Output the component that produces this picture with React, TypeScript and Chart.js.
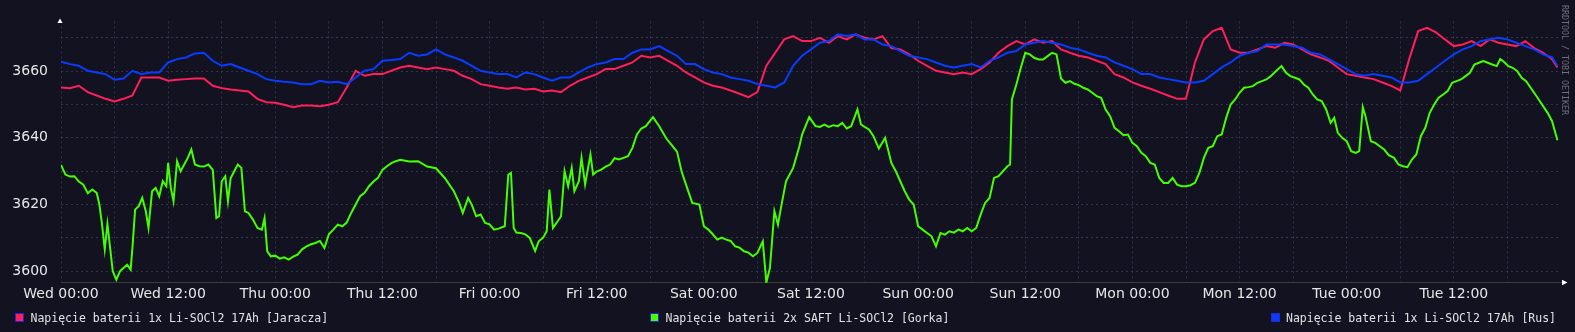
import React, { useEffect, useRef } from "react";
import { Chart, registerables } from "chart.js";
Chart.register(...registerables);

// ---------- data ----------
const X_LABELS = [
  "Wed 00:00", "Wed 12:00", "Thu 00:00", "Thu 12:00", "Fri 00:00", "Fri 12:00", "Sat 00:00",
  "Sat 12:00", "Sun 00:00", "Sun 12:00", "Mon 00:00", "Mon 12:00", "Tue 00:00", "Tue 12:00",
];
const X_GRID_HOURS = [0, 6, 12, 18, 24, 30, 36, 42, 48, 54, 60, 66, 72, 78, 84, 90, 96, 102, 108, 114, 120, 126, 132, 138, 144, 150, 156, 162];
const Y_GRID = [3600, 3610, 3620, 3630, 3640, 3650, 3660, 3670];
const Y_LABELED = [3600, 3620, 3640, 3660];

const SERIES_NAMES = [
  "Napięcie baterii 1x Li-SOCl2 17Ah [Jaracza]",
  "Napięcie baterii 2x SAFT Li-SOCl2 [Gorka]",
  "Napięcie baterii 1x Li-SOCl2 17Ah [Rus]",
];

// hourly samples for red and blue (hour 0..167, then the last sample at 167.6)
const LAST_HOUR = 167.6;

const RED = [
  3655.1, 3654.9, 3655.6, 3653.7, 3652.7, 3651.7, 3650.9, 3651.7, 3652.7, 3658.1, 3658.1, 3658.1,
  3657.1, 3657.4, 3657.6, 3657.8, 3657.8, 3655.6, 3654.9, 3654.5, 3654.2, 3653.9, 3651.7, 3650.7,
  3650.5, 3649.9, 3649.2, 3649.7, 3649.7, 3649.5, 3649.9, 3650.7, 3655.1, 3660.1, 3658.6, 3659.1,
  3659.1, 3660.1, 3661.1, 3661.6, 3661.1, 3660.6, 3661.1, 3660.6, 3660.1, 3658.6, 3657.6, 3656.1,
  3655.6, 3655.1, 3654.7, 3655.1, 3654.5, 3654.7, 3653.9, 3654.2, 3653.7, 3655.6, 3657.1, 3658.1,
  3659.1, 3660.6, 3660.6, 3661.6, 3662.6, 3664.6, 3664.1, 3664.6, 3663.1, 3661.6, 3659.6, 3658.1,
  3656.6, 3655.6, 3655.1, 3654.2, 3653.2, 3652.2, 3653.7, 3661.6, 3665.5, 3669.5, 3670.5, 3669.0,
  3669.0, 3670.0, 3668.5, 3670.5, 3669.5, 3671.0, 3670.0, 3669.5, 3670.5, 3666.9, 3666.5, 3665.0,
  3663.1, 3661.6, 3660.1, 3659.6, 3659.1, 3659.6, 3659.1, 3660.6, 3662.6, 3665.5, 3667.5, 3669.0,
  3668.0, 3669.5, 3668.5, 3669.0, 3666.5, 3665.5, 3664.6, 3664.1, 3663.1, 3662.1, 3659.1, 3658.1,
  3656.6, 3655.6, 3654.7, 3653.7, 3652.7, 3651.7, 3651.7, 3662.6, 3669.5, 3672.0, 3673.0, 3666.5,
  3665.5, 3665.5, 3666.5, 3667.5, 3667.0, 3668.5, 3668.0, 3666.5, 3665.0, 3664.1, 3663.1, 3661.1,
  3659.1, 3658.6, 3658.1, 3657.6, 3656.6, 3655.6, 3654.2, 3663.6, 3672.0, 3673.0, 3671.6, 3669.5,
  3667.5, 3668.0, 3669.0, 3667.5, 3669.5, 3668.5, 3668.0, 3667.5, 3669.0, 3666.9, 3665.5, 3663.6,
  3661.1,
];

const BLUE = [
  3662.8, 3662.1, 3661.6, 3660.1, 3659.6, 3659.1, 3657.4, 3657.8, 3660.1, 3659.1, 3659.6, 3659.6,
  3662.6, 3663.6, 3664.1, 3665.3, 3665.5, 3663.1, 3661.6, 3662.1, 3661.1, 3660.1, 3659.1, 3657.6,
  3657.1, 3656.8, 3656.6, 3656.1, 3656.1, 3657.1, 3656.6, 3656.8, 3656.1, 3658.1, 3660.1, 3660.6,
  3663.1, 3663.3, 3663.6, 3665.5, 3664.6, 3665.0, 3666.5, 3665.0, 3664.1, 3663.1, 3661.6, 3660.1,
  3659.6, 3659.1, 3659.1, 3658.1, 3659.6, 3659.1, 3658.1, 3657.1, 3658.1, 3658.1, 3659.6, 3661.1,
  3662.1, 3662.6, 3663.6, 3663.6, 3665.5, 3666.5, 3666.5, 3667.5, 3666.0, 3664.6, 3662.1, 3662.1,
  3660.6, 3659.6, 3659.1, 3658.1, 3657.6, 3657.1, 3656.1, 3655.6, 3655.1, 3656.6, 3661.6, 3664.6,
  3666.5, 3668.5, 3669.0, 3671.0, 3670.5, 3671.0, 3669.5, 3669.5, 3668.0, 3667.5, 3666.0, 3664.6,
  3664.1, 3663.6, 3662.6, 3661.6, 3661.1, 3661.6, 3662.1, 3661.1, 3663.1, 3664.1, 3665.5, 3666.0,
  3668.0, 3668.5, 3669.0, 3668.5, 3668.0, 3667.0, 3666.5, 3665.5, 3664.6, 3664.1, 3662.6, 3661.6,
  3660.6, 3659.1, 3659.1, 3658.1, 3657.6, 3657.1, 3656.6, 3656.6, 3657.1, 3659.1, 3661.1, 3662.6,
  3664.6, 3665.5, 3666.0, 3668.0, 3668.0, 3668.0, 3667.5, 3667.0, 3665.5, 3665.0, 3663.6, 3662.1,
  3660.6, 3659.1, 3658.6, 3659.1, 3658.6, 3658.1, 3656.6, 3656.6, 3657.1, 3659.1, 3661.1, 3663.1,
  3665.0, 3666.5, 3667.5, 3669.0, 3669.5, 3670.0, 3669.5, 3668.5, 3667.5, 3666.5, 3665.0, 3664.1,
  3661.6,
];

// green: [hour, value] samples
const GREEN: [number, number][] = [
  [0, 3631.9], [0.5, 3629], [1, 3628.4], [1.5, 3628.5], [2, 3626.9], [2.5, 3626], [3, 3623.4], [3.5, 3624.5],
  [4, 3623.5], [4.3, 3620], [4.6, 3614], [4.9, 3606.6], [5.2, 3614.2], [5.5, 3607], [5.8, 3600], [6.2, 3597.5],
  [6.6, 3600], [7, 3601], [7.4, 3602], [7.8, 3600.5], [8, 3607], [8.3, 3618.5], [8.7, 3619.5], [9.1, 3622],
  [9.5, 3618], [9.8, 3613], [10.2, 3624], [10.6, 3625], [11, 3622.5], [11.4, 3627], [11.8, 3625.5], [12, 3632.5],
  [12.3, 3625], [12.6, 3621], [13, 3633], [13.4, 3630], [13.8, 3632], [14.2, 3634], [14.6, 3636.5], [15, 3632],
  [15.5, 3631.5], [16, 3631.4], [16.5, 3632], [17, 3630.4], [17.4, 3616], [17.7, 3616.5], [18, 3627], [18.4, 3628.5],
  [18.7, 3621], [19, 3627.9], [19.4, 3630], [19.8, 3632], [20.2, 3631], [20.6, 3618], [21, 3617.5], [21.5, 3615.5],
  [22, 3613], [22.5, 3612.5], [22.8, 3616], [23.1, 3606], [23.5, 3604.5], [24, 3604.7], [24.5, 3603.8], [25, 3604.2],
  [25.5, 3603.5], [26, 3604.4], [26.5, 3605], [27, 3606.6], [27.5, 3607.5], [28, 3608.1], [28.5, 3608.5], [29, 3609.1],
  [29.5, 3607], [30, 3611.1], [30.5, 3612.5], [31, 3614], [31.5, 3613.5], [32, 3614.6], [32.5, 3617.5], [33, 3620],
  [33.5, 3622.5], [34, 3623.5], [34.5, 3625.5], [35, 3626.9], [35.5, 3628], [36, 3630.4], [36.5, 3631.5], [37, 3632.4],
  [37.5, 3633], [38, 3633.4], [39, 3632.9], [40, 3633], [41, 3631.4], [42, 3630.9], [43, 3627.9], [44, 3624],
  [44.6, 3620.5], [45, 3617.5], [45.6, 3622], [46, 3620], [46.5, 3616.5], [47, 3617], [47.5, 3614.5], [48, 3614.1],
  [48.5, 3612.5], [49, 3612.8], [49.7, 3613.5], [50.1, 3629], [50.4, 3629.5], [50.7, 3613], [51, 3611.6], [51.5, 3611.5],
  [52, 3611.1], [52.5, 3610], [53.1, 3606.1], [53.5, 3609], [54, 3610.1], [54.4, 3612], [54.7, 3624.5], [55.1, 3613],
  [55.5, 3614.5], [56, 3616.5], [56.4, 3630], [56.8, 3625.5], [57.2, 3631], [57.5, 3624], [58, 3627], [58.3, 3634],
  [58.7, 3626], [59.3, 3635], [59.6, 3629], [60, 3629.9], [60.5, 3630.5], [61, 3631.4], [61.5, 3632], [62, 3633.9],
  [62.5, 3633.5], [63, 3634], [63.5, 3634.5], [64, 3637], [64.5, 3641], [65, 3642.8], [65.5, 3643.5], [66.3, 3646.2],
  [67, 3643.5], [67.8, 3639.8], [68.5, 3637.5], [69, 3635.8], [69.5, 3630], [70, 3626], [70.7, 3620.5], [71.5, 3620],
  [72, 3613.5], [72.5, 3612.5], [73, 3611.1], [73.5, 3609.5], [74, 3610.1], [74.5, 3609.5], [75, 3609.1], [75.5, 3607.5],
  [76, 3607.1], [76.5, 3606], [77, 3605.6], [77.5, 3604.5], [78, 3605.5], [78.6, 3609], [79, 3596.7], [79.4, 3601],
  [79.9, 3618], [80.3, 3614], [80.7, 3620], [81.2, 3627], [82, 3631], [82.7, 3637.5], [83, 3641], [83.8, 3646.2],
  [84.5, 3643.5], [85, 3643.3], [85.5, 3644], [86, 3643.3], [86.5, 3643.8], [87, 3643.5], [87.5, 3644.5], [88, 3642.8],
  [88.5, 3643.5], [89.2, 3648.5], [89.6, 3644], [90, 3643.3], [90.5, 3642.5], [91, 3640.5], [91.6, 3636.8], [92.3, 3640],
  [93, 3632.5], [93.5, 3630], [94, 3627], [94.5, 3624], [95, 3621.5], [95.5, 3620], [96, 3613.5], [96.5, 3612.5],
  [97, 3611.5], [97.5, 3610.5], [98, 3607.5], [98.5, 3611.5], [99, 3611], [99.5, 3612], [100, 3611.6], [100.5, 3612.5],
  [101, 3612], [101.5, 3613], [102, 3612], [102.5, 3613], [103, 3617], [103.5, 3620.5], [104, 3622], [104.5, 3628],
  [105, 3628.5], [105.5, 3630], [106, 3631.5], [106.3, 3632], [106.5, 3651.5], [107, 3656], [107.5, 3661], [108, 3665.5],
  [108.5, 3665], [109, 3664], [109.5, 3663.5], [110, 3663.5], [110.5, 3664.5], [111, 3665.5], [111.5, 3665], [112, 3657.8],
  [112.5, 3656.5], [113, 3657], [113.5, 3656.2], [114, 3655.8], [114.5, 3655], [115, 3654.5], [115.5, 3653.5], [116, 3652.5],
  [116.5, 3652], [117, 3648.5], [117.5, 3646.5], [118, 3643], [118.5, 3642], [119, 3640.8], [119.5, 3641], [120, 3638.5],
  [120.5, 3637.5], [121, 3635.5], [121.5, 3634.5], [122, 3632.5], [122.5, 3632], [123, 3628], [123.5, 3626.5], [124, 3626.5],
  [124.5, 3628], [125, 3626], [125.5, 3625.5], [126, 3625.5], [126.5, 3625.8], [127, 3626.5], [127.5, 3629.5], [128, 3634],
  [128.5, 3637], [129, 3637.5], [129.5, 3640.5], [130, 3641], [130.5, 3646], [131, 3650], [131.5, 3651.5], [132, 3653.5],
  [132.5, 3655], [133, 3655.2], [133.5, 3655.5], [134, 3656.5], [134.5, 3657], [135, 3657.5], [135.5, 3658.5], [136, 3659.8],
  [136.7, 3661.5], [137.2, 3659.5], [137.7, 3658.5], [138.2, 3658], [138.7, 3657.5], [139.2, 3656], [139.7, 3655], [140.2, 3653],
  [140.7, 3651.5], [141.2, 3651], [141.7, 3648.5], [142.2, 3644.5], [142.6, 3646], [143, 3641.5], [143.5, 3640], [144, 3639],
  [144.5, 3636], [145, 3635.5], [145.4, 3636], [145.8, 3649.2], [146.1, 3646.5], [146.7, 3639], [147.2, 3638.5], [147.7, 3637.5],
  [148.2, 3636.5], [148.7, 3634.8], [149.3, 3634], [149.8, 3632], [150.3, 3631.5], [150.8, 3631.2], [151.3, 3633.5], [151.8, 3635],
  [152.3, 3640.5], [152.8, 3643], [153.3, 3647.5], [153.8, 3650], [154.3, 3652], [154.8, 3653], [155.3, 3654], [155.8, 3656.5],
  [156.3, 3657], [156.8, 3657.5], [157.3, 3658.5], [157.8, 3659.5], [158.3, 3662], [158.8, 3662.5], [159.3, 3663], [159.8, 3662.5],
  [160.3, 3662], [160.8, 3661.5], [161.2, 3663.6], [161.6, 3662.8], [162.1, 3661.5], [162.6, 3661], [163.1, 3660], [163.6, 3658],
  [164.1, 3657], [164.6, 3655], [165, 3653.5], [165.5, 3651.5], [166, 3649.5], [166.5, 3647.5], [167, 3645], [167.6, 3639.3],
];

// ---------- style ----------
const BG = "#121220";
const COLORS = ["#ff1f5a", "#44ff00", "#0a3cff"];
const TEXT = "#e6e6e6";
const GRID = "rgba(100,105,135,0.38)";

const hourAt = (i: number) => (i < 168 ? i : LAST_HOUR);

export default function App() {
  const ref = useRef<HTMLCanvasElement | null>(null);

  useEffect(() => {
    document.body.style.margin = "0";
    document.body.style.background = BG;
    const canvas = ref.current;
    if (!canvas) return;

    const decor = {
      id: "rrdDecor",
      beforeDatasetsDraw(chart: any) {
        const { ctx, chartArea } = chart;
        ctx.save();
        ctx.strokeStyle = "#3b3b33";
        ctx.lineWidth = 1;
        ctx.beginPath();
        ctx.moveTo(chartArea.left, chartArea.bottom - 0.5);
        ctx.lineTo(chartArea.right + 1, chartArea.bottom - 0.5);
        ctx.stroke();
        ctx.restore();
      },
      afterDraw(chart: any) {
        const { ctx, chartArea } = chart;
        ctx.save();
        ctx.fillStyle = "#ffffff";
        const ax = chartArea.left - 1;
        ctx.beginPath();
        ctx.moveTo(ax, chartArea.top - 3);
        ctx.lineTo(ax - 2.6, chartArea.top + 1.5);
        ctx.lineTo(ax + 2.6, chartArea.top + 1.5);
        ctx.closePath();
        ctx.fill();
        const ay = chartArea.bottom - 0.5;
        const rx = chartArea.right + 1;
        ctx.beginPath();
        ctx.moveTo(rx + 5.5, ay);
        ctx.lineTo(rx, ay - 2.8);
        ctx.lineTo(rx, ay + 2.8);
        ctx.closePath();
        ctx.fill();
        ctx.restore();
      },
    };

    const line = (label: string, data: any[], color: string, order: number) => ({
      label,
      data,
      borderColor: color,
      borderWidth: 2,
      pointRadius: 0,
      tension: 0,
      order,
    });

    const chart = new Chart(canvas, {
      type: "line",
      data: {
        datasets: [
          line(SERIES_NAMES[0], RED.map((v, i) => ({ x: hourAt(i), y: v })), COLORS[0], 2),
          line(SERIES_NAMES[1], GREEN.map(([h, v]) => ({ x: h, y: v })), COLORS[1], 1),
          line(SERIES_NAMES[2], BLUE.map((v, i) => ({ x: hourAt(i), y: v })), COLORS[2], 0),
        ],
      },
      options: {
        animation: false,
        responsive: false,
        devicePixelRatio: 1,
        events: [],
        layout: { padding: { top: 18, right: 14, left: 0, bottom: 0 } },
        plugins: { legend: { display: false }, tooltip: { enabled: false } },
        scales: {
          x: {
            type: "linear",
            min: 0,
            max: 168,
            afterBuildTicks: (scale: any) => {
              scale.ticks = X_GRID_HOURS.map((v) => ({ value: v }));
            },
            afterFit: (scale: any) => {
              scale.height = 49;
            },
            border: { display: false, dash: [2, 3] },
            grid: { color: GRID, lineWidth: 1, drawTicks: false },
            ticks: {
              autoSkip: false,
              maxRotation: 0,
              minRotation: 0,
              padding: 3,
              color: TEXT,
              font: { family: "'DejaVu Sans', sans-serif", size: 14 },
              callback: (value: any) => {
                const h = Number(value);
                return h % 12 === 0 ? X_LABELS[h / 12] : "";
              },
            },
          },
          y: {
            type: "linear",
            min: 3596.5,
            max: 3674.9,
            afterBuildTicks: (scale: any) => {
              scale.ticks = Y_GRID.map((v) => ({ value: v }));
            },
            afterFit: (scale: any) => {
              scale.width = 61;
            },
            border: { display: false, dash: [2, 3] },
            grid: { color: GRID, lineWidth: 1, drawTicks: false },
            ticks: {
              padding: 13,
              color: TEXT,
              font: { family: "'DejaVu Sans', sans-serif", size: 14 },
              callback: (value: any) => (Y_LABELED.includes(Number(value)) ? String(value) : ""),
            },
          },
        },
      },
      plugins: [decor],
    });
    return () => chart.destroy();
  }, []);

  const legendPos = [
    { box: 15, text: 30.5 },
    { box: 650, text: 665.5 },
    { box: 1271, text: 1286 },
  ];

  return (
    <div style={{ position: "relative", width: 1575, height: 332, background: BG, overflow: "hidden" }}>
      <canvas
        ref={ref}
        width={1575}
        height={332}
        style={{ position: "absolute", left: 0, top: 0, width: 1575, height: 332 }}
      />
      {SERIES_NAMES.map((name, i) => (
        <React.Fragment key={name}>
          <div
            style={{
              position: "absolute",
              left: legendPos[i].box,
              top: 313,
              width: 7,
              height: 7,
              background: COLORS[i],
              border: "1px solid #2626d6",
            }}
          />
          <div
            style={{
              position: "absolute",
              left: legendPos[i].text,
              top: 312,
              fontFamily: "'DejaVu Sans Mono', monospace",
              fontSize: 11.5,
              lineHeight: "13px",
              color: "#e2e2e2",
              whiteSpace: "pre",
            }}
          >
            {name}
          </div>
        </React.Fragment>
      ))}
      <div
        style={{
          position: "absolute",
          left: 1561,
          top: 5,
          writingMode: "vertical-rl",
          fontFamily: "'DejaVu Sans Mono', monospace",
          fontSize: 8.3,
          lineHeight: "8px",
          color: "#6e6e80",
          whiteSpace: "pre",
        }}
      >
        RRDTOOL / TOBI OETIKER
      </div>
    </div>
  );
}
